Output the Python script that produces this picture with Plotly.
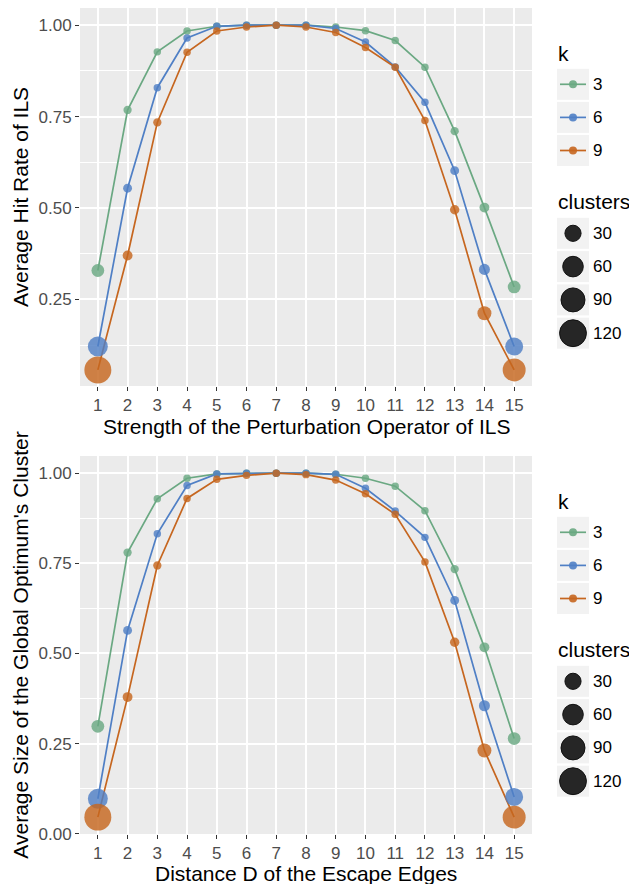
import numpy as np
import plotly.graph_objects as go

# ---------------- data ----------------
x_vals = list(range(1, 16))
k_levels = ["3", "6", "9"]

# top panel: average hit rate of ILS
hit_k3 = [0.329, 0.768, 0.927, 0.984, 0.997, 1.0, 1.0, 1.0, 0.995, 0.985, 0.958, 0.885, 0.710, 0.501, 0.284]
hit_k6 = [0.121, 0.554, 0.829, 0.965, 0.997, 1.0, 1.0, 1.0, 0.991, 0.954, 0.886, 0.789, 0.602, 0.332, 0.121]
hit_k9 = [0.057, 0.370, 0.734, 0.926, 0.984, 0.995, 1.0, 0.995, 0.980, 0.939, 0.885, 0.739, 0.495, 0.212, 0.057]

# bottom panel: average size of the global optimum's cluster
size_k3 = [0.298, 0.780, 0.929, 0.986, 0.998, 1.0, 1.0, 1.0, 0.997, 0.986, 0.964, 0.896, 0.734, 0.517, 0.264]
size_k6 = [0.097, 0.564, 0.832, 0.966, 0.998, 1.0, 1.0, 1.0, 0.997, 0.958, 0.895, 0.822, 0.647, 0.355, 0.102]
size_k9 = [0.046, 0.379, 0.744, 0.930, 0.983, 0.994, 1.0, 0.996, 0.981, 0.943, 0.886, 0.754, 0.531, 0.231, 0.046]

# number of clusters (point size)
clusters_k3 = [14, 2, 1, 1, 1, 1, 1, 1, 1, 1, 1, 1, 2, 5, 14]
clusters_k6 = [55, 3, 1, 1, 1, 1, 1, 1, 1, 1, 1, 1, 3, 8, 41]
clusters_k9 = [121, 5, 2, 1, 1, 1, 1, 1, 1, 1, 1, 1, 4, 19, 80]

cluster_breaks = [30, 60, 90, 120]
y_ticks = [0.0, 0.25, 0.50, 0.75, 1.00]

x_title_top = "Strength of the Perturbation Operator of ILS"
y_title_top = "Average Hit Rate of ILS"
x_title_bot = "Distance D of the Escape Edges"
y_title_bot = "Average Size of the Global Optimum's Cluster"

# ---------------- style ----------------
colors = ["#6aa882", "#4f7fc5", "#c6661f"]
FONT = "Liberation Sans, Arial, Helvetica, sans-serif"
W, H = 629, 884
ML, MR, MT, MB = 80, 97, 8, 50
PW, PH = W - ML - MR, H - MT - MB


def diam(v):
    return 5.5 + 1.95 * np.sqrt(np.asarray(v, dtype=float))


def px(p):
    return (p - ML) / PW


def py(p):
    return (H - MB - p) / PH


top_dom = [py(386), 1.0]
bot_dom = [0.0, py(456)]

fig = go.Figure()

panels = [
    ("x", "y", [hit_k3, hit_k6, hit_k9]),
    ("x2", "y2", [size_k3, size_k6, size_k9]),
]
clusters = [clusters_k3, clusters_k6, clusters_k9]

for xa, ya, series in panels:
    for i, vals in enumerate(series):
        fig.add_trace(go.Scatter(
            x=x_vals, y=vals, mode="lines", xaxis=xa, yaxis=ya,
            line=dict(color=colors[i], width=1.7), showlegend=False, hoverinfo="skip"))
    for i, vals in enumerate(series):
        fig.add_trace(go.Scatter(
            x=x_vals, y=vals, mode="markers", xaxis=xa, yaxis=ya,
            marker=dict(color=colors[i], size=diam(clusters[i]), opacity=0.82, line=dict(width=0)),
            showlegend=False, name="k=" + k_levels[i]))

axis_common = dict(
    showgrid=True, gridcolor="white", gridwidth=1.6, zeroline=False,
    ticks="outside", ticklen=4, tickwidth=1.3, tickcolor="#333333",
    tickfont=dict(family=FONT, size=17, color="#4d4d4d"),
    showline=False,
)

xaxis = dict(axis_common, range=[0.4, 15.6], tickvals=x_vals, ticktext=[str(v) for v in x_vals],
             domain=[0, 1])
fig.update_layout(
    xaxis=dict(xaxis, anchor="y"),
    yaxis=dict(axis_common, domain=top_dom, anchor="x", range=[0.013, 1.047],
               tickvals=y_ticks, tickformat=".2f",
               minor=dict(dtick=0.125, tick0=0, showgrid=True, gridcolor="white", gridwidth=0.7, ticks=""),
               title=dict(text=y_title_top, font=dict(family=FONT, size=21, color="black"), standoff=4)),
    xaxis2=dict(xaxis, anchor="y2"),
    yaxis2=dict(axis_common, domain=bot_dom, anchor="x2", range=[-0.0008, 1.0477],
                tickvals=y_ticks, tickformat=".2f",
                minor=dict(dtick=0.125, tick0=0, showgrid=True, gridcolor="white", gridwidth=0.7, ticks=""),
                title=dict(text=y_title_bot, font=dict(family=FONT, size=21, color="black"), standoff=4)),
    plot_bgcolor="#ebebeb", paper_bgcolor="white",
    width=W, height=H, margin=dict(l=ML, r=MR, t=MT, b=MB, autoexpand=False),
    showlegend=False,
)

# ---------------- axis titles (x) and manual ggplot-style legends ----------------
shapes = []
annotations = [
    dict(x=0.5, y=py(426.5), xref="paper", yref="paper", text=x_title_top, showarrow=False,
         xanchor="center", yanchor="middle", font=dict(family=FONT, size=21, color="black")),
    dict(x=0.5, y=py(873), xref="paper", yref="paper", text=x_title_bot, showarrow=False,
         xanchor="center", yanchor="middle", font=dict(family=FONT, size=21, color="black")),
]
key_cx = 573
label_x = 591
for off in [0, 448]:
    annotations.append(dict(x=px(556), y=py(53 + off), xref="paper", yref="paper", text="k",
                            showarrow=False, xanchor="left", yanchor="middle",
                            font=dict(family=FONT, size=21, color="black")))
    for i, lab in enumerate(k_levels):
        cy = 84.3 + 33.1 * i + off
        shapes.append(dict(type="rect", xref="paper", yref="paper", xsizemode="pixel", ysizemode="pixel",
                           xanchor=px(key_cx), yanchor=py(cy), x0=-16, x1=16, y0=-15.5, y1=15.5,
                           fillcolor="#f2f2f2", line=dict(width=0), layer="above"))
        shapes.append(dict(type="line", xref="paper", yref="paper", xsizemode="pixel", ysizemode="pixel",
                           xanchor=px(key_cx), yanchor=py(cy), x0=-13, x1=13, y0=0, y1=0,
                           line=dict(color=colors[i], width=1.7), layer="above"))
        shapes.append(dict(type="circle", xref="paper", yref="paper", xsizemode="pixel", ysizemode="pixel",
                           xanchor=px(key_cx), yanchor=py(cy), x0=-4, x1=4, y0=-4, y1=4,
                           fillcolor=colors[i], opacity=0.9, line=dict(width=0), layer="above"))
        annotations.append(dict(x=px(label_x), y=py(cy), xref="paper", yref="paper", text=lab,
                                showarrow=False, xanchor="left", yanchor="middle",
                                font=dict(family=FONT, size=17, color="black")))
    annotations.append(dict(x=px(556), y=py(201.7 + off), xref="paper", yref="paper", text="clusters",
                            showarrow=False, xanchor="left", yanchor="middle",
                            font=dict(family=FONT, size=21, color="black")))
    for j, b in enumerate(cluster_breaks):
        cy = 233.3 + 33.3 * j + off
        r = float(diam(b)) / 2
        shapes.append(dict(type="rect", xref="paper", yref="paper", xsizemode="pixel", ysizemode="pixel",
                           xanchor=px(key_cx), yanchor=py(cy), x0=-16, x1=16, y0=-15.5, y1=15.5,
                           fillcolor="#f2f2f2", line=dict(width=0), layer="above"))
        shapes.append(dict(type="circle", xref="paper", yref="paper", xsizemode="pixel", ysizemode="pixel",
                           xanchor=px(key_cx), yanchor=py(cy), x0=-r, x1=r, y0=-r, y1=r,
                           fillcolor="#262626", line=dict(width=1, color="#111111"), layer="above"))
        annotations.append(dict(x=px(label_x), y=py(cy), xref="paper", yref="paper", text=str(b),
                                showarrow=False, xanchor="left", yanchor="middle",
                                font=dict(family=FONT, size=17, color="black")))

fig.update_layout(shapes=shapes, annotations=annotations)
fig.write_html("out.html", config={"displayModeBar": False},
               post_script="document.body.style.margin='0';document.body.style.overflow='hidden';")
